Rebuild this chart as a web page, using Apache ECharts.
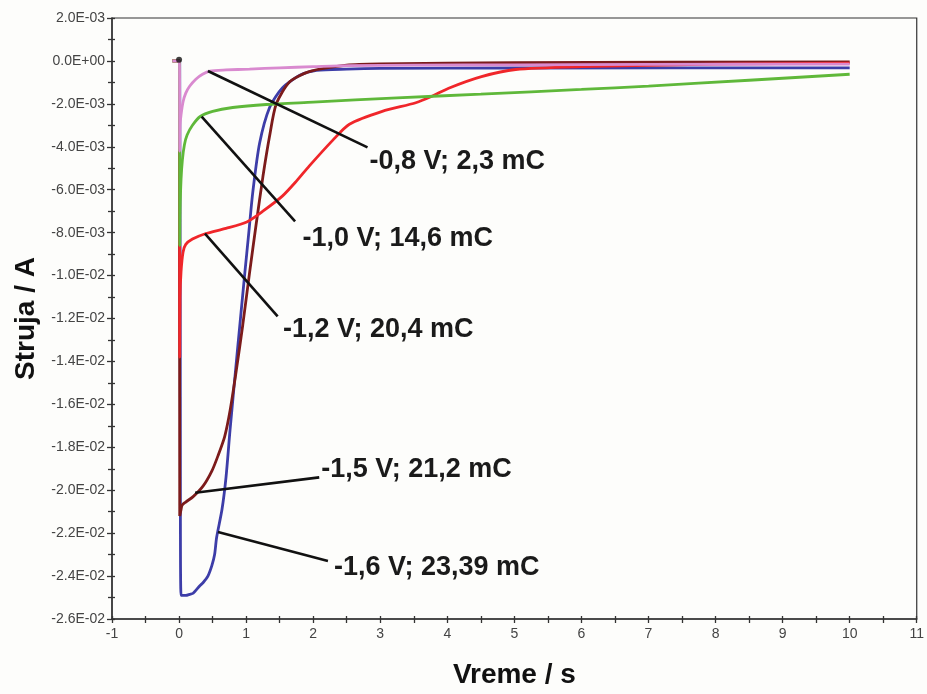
<!DOCTYPE html>
<html><head><meta charset="utf-8">
<script src="https://cdn.jsdelivr.net/npm/echarts@6/dist/echarts.min.js"></script>
<style>html,body{margin:0;padding:0;background:#fdfdfb}#c{width:927px;height:694px}</style>
</head><body><div id="c"></div>
<script>
// Time in s, current in mA (axis labels are shown in A)
const pinkT  = [-0.1, 0.005, 0.01, 0.015, 0.03, 0.06, 0.1, 0.16, 0.25, 0.35, 0.46, 0.7, 1.05, 1.5, 2.0, 2.54, 3.5, 5, 7, 10];
const pinkI  = [0, 0, -4.2, -3.0, -2.5, -1.9, -1.5, -1.17, -0.85, -0.62, -0.47, -0.42, -0.38, -0.32, -0.27, -0.22, -0.2, -0.18, -0.16, -0.15];

const greenT = [-0.1, 0.005, 0.01, 0.015, 0.03, 0.05, 0.08, 0.12, 0.2, 0.31, 0.5, 0.8, 1.3, 2, 3.25, 4.5, 6, 7, 8.5, 10];
const greenI = [0, 0, -8.6, -7.0, -5.5, -4.6, -3.9, -3.45, -3.0, -2.6, -2.35, -2.17, -2.03, -1.92, -1.72, -1.55, -1.33, -1.17, -0.9, -0.62];

const redT   = [-0.1, 0.005, 0.01, 0.015, 0.03, 0.06, 0.1, 0.2, 0.39, 0.7, 1.01, 1.25, 1.54, 1.75, 1.94, 2.29, 2.54, 3.03, 3.53, 3.77, 4.02, 4.51, 5.02, 6.0, 8, 10];
const redI   = [0, 0, -13.8, -11, -9.8, -8.9, -8.55, -8.3, -8.05, -7.8, -7.5, -7.0, -6.3, -5.6, -4.9, -3.7, -2.95, -2.35, -1.95, -1.65, -1.27, -0.73, -0.4, -0.27, -0.15, -0.1];

const blueT  = [-0.1, 0.01, 0.02, 0.03, 0.1, 0.16, 0.21, 0.31, 0.36, 0.43, 0.49, 0.53, 0.56, 0.64, 0.70, 0.76, 0.87, 0.98, 1.04, 1.10, 1.20, 1.35, 1.54, 1.80, 2.05, 2.5, 3, 5, 10];
const blueI  = [0, 0, -21, -24.9, -24.9, -24.85, -24.8, -24.45, -24.3, -24.0, -23.5, -23.0, -22.2, -20.9, -19.4, -17.2, -13.5, -9.9, -8.0, -6.1, -3.85, -2.17, -1.26, -0.67, -0.44, -0.38, -0.35, -0.33, -0.32];

const brownT = [-0.1, 0.005, 0.01, 0.03, 0.045, 0.1, 0.21, 0.36, 0.49, 0.58, 0.68, 0.76, 0.85, 0.95, 1.05, 1.15, 1.25, 1.35, 1.45, 1.65, 1.94, 2.5, 3, 5, 10];
const brownI = [0, 0, -21.2, -20.9, -20.7, -20.55, -20.3, -19.8, -19.1, -18.4, -17.5, -16.3, -14.5, -12.3, -9.9, -7.6, -5.4, -3.5, -2.0, -0.97, -0.5, -0.2, -0.14, -0.08, -0.05];

const blackDot = [[0.0, 0.05]];

const xTicks = {min: -1, max: 11, interval: 1};
const yTicks = {min: -26, max: 2, interval: 2};

// annotation labels: text, anchor on curve [t, mA], leader end [t, mA], text position [t, mA]
const annoText   = ['-0,8 V; 2,3 mC', '-1,0 V; 14,6 mC', '-1,2 V; 20,4 mC', '-1,5 V; 21,2 mC', '-1,6 V; 23,39 mC'];
const annoAnchor = [[0.43, -0.47], [0.337, -2.59], [0.386, -8.05], [0.24, -20.12], [0.58, -21.95]];
const annoEnd    = [[2.81, -4.03], [1.73, -7.47], [1.47, -11.9], [2.09, -19.4], [2.22, -23.3]];
const annoPos    = [[2.84, -4.71], [1.84, -8.26], [1.55, -12.5], [2.12, -19.03], [2.31, -23.58]];

const FONT = 'Liberation Sans, Arial, sans-serif';
const zip = (T, V) => T.map((t, i) => [t, V[i]]);
const fmtY = v => {
  const s = (v * 1e-3).toExponential(1).toUpperCase();
  const m = s.match(/^(-?[\d.]+)E([+-])(\d+)$/);
  return m[1] + 'E' + m[2] + m[3].padStart(2, '0');
};

const chart = echarts.init(document.getElementById('c'), null, {renderer: 'canvas'});
const lineS = (name, T, V, color) => ({
  name, type: 'line', data: zip(T, V), showSymbol: false, symbol: 'none',
  lineStyle: {color, width: 2.8}, itemStyle: {color}, smooth: 0.25, animation: false, z: 2
});
const axisCol = '#333';
chart.setOption({
  backgroundColor: '#fdfdfb',
  animation: false,
  grid: {left: 112, right: 7, top: 18, bottom: 60, show: true, borderColor: axisCol, borderWidth: 1.2, backgroundColor: 'transparent'},
  xAxis: [{
    type: 'value', min: xTicks.min, max: xTicks.max, interval: xTicks.interval,
    name: 'Vreme / s', nameLocation: 'middle', nameGap: 42,
    nameTextStyle: {fontSize: 28, fontWeight: 'bold', color: '#111', fontFamily: FONT},
    axisLine: {onZero: false, lineStyle: {color: axisCol, width: 1.5}},
    axisTick: {length: 4, lineStyle: {color: axisCol, width: 1.3}},
    minorTick: {show: true, splitNumber: 2, length: 4, lineStyle: {color: axisCol, width: 1.3}},
    axisLabel: {fontSize: 14, color: '#444', margin: 8, fontFamily: FONT},
    splitLine: {show: false}
  }, {
    type: 'value', min: xTicks.min, max: xTicks.max, interval: xTicks.interval, position: 'bottom',
    axisLine: {show: false, onZero: false},
    axisTick: {inside: true, length: 3, lineStyle: {color: axisCol, width: 1.3}},
    minorTick: {show: true, splitNumber: 2, length: 3, lineStyle: {color: axisCol, width: 1.3}},
    axisLabel: {show: false}, splitLine: {show: false}
  }],
  yAxis: [{
    type: 'value', min: yTicks.min, max: yTicks.max, interval: yTicks.interval,
    name: 'Struja / A', nameLocation: 'middle', nameGap: 54,
    nameTextStyle: {fontSize: 28, fontWeight: 'bold', color: '#111', fontFamily: FONT},
    axisLine: {onZero: false, lineStyle: {color: axisCol, width: 1.5}},
    axisTick: {length: 5, lineStyle: {color: axisCol, width: 1.3}},
    minorTick: {show: true, splitNumber: 2, length: 4, lineStyle: {color: axisCol, width: 1.3}},
    axisLabel: {fontSize: 14, color: '#444', margin: 7, fontFamily: FONT, formatter: fmtY},
    splitLine: {show: false}
  }, {
    type: 'value', min: yTicks.min, max: yTicks.max, interval: yTicks.interval, position: 'left',
    axisLine: {show: false, onZero: false},
    axisTick: {inside: true, length: 3, lineStyle: {color: axisCol, width: 1.3}},
    minorTick: {show: true, splitNumber: 2, length: 3, lineStyle: {color: axisCol, width: 1.3}},
    axisLabel: {show: false}, splitLine: {show: false}
  }],
  series: [
    lineS('-1,6 V', blueT, blueI, '#3d3da8'),
    lineS('-1,5 V', brownT, brownI, '#7c1b1b'),
    lineS('-1,2 V', redT, redI, '#f0262a'),
    lineS('-1,0 V', greenT, greenI, '#5fb83a'),
    lineS('-0,8 V', pinkT, pinkI, '#d98acf'),
    {type: 'scatter', data: blackDot, symbolSize: 6, itemStyle: {color: '#111'}, z: 3, animation: false}
  ]
});

const px = p => chart.convertToPixel({gridIndex: 0}, p);
const graphics = [];
annoText.forEach((txt, i) => {
  const a = px(annoAnchor[i]), e = px(annoEnd[i]), t = px(annoPos[i]);
  graphics.push({type: 'line', shape: {x1: a[0], y1: a[1], x2: e[0], y2: e[1]},
    style: {stroke: '#111', lineWidth: 2.6}, z: 10});
  graphics.push({type: 'text', x: t[0], y: t[1],
    style: {text: txt, font: 'bold 27px ' + FONT, fill: '#1a1a1a', textAlign: 'left', textVerticalAlign: 'middle'}, z: 10});
});
chart.setOption({graphic: graphics});
</script>
</body></html>
